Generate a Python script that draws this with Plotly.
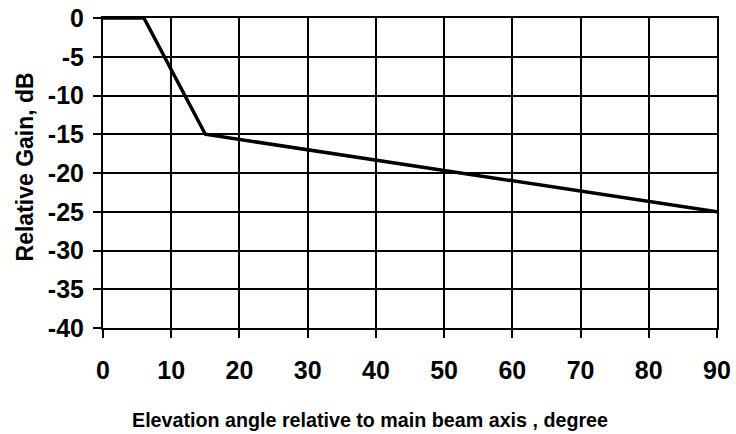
import plotly.graph_objects as go

# gain pattern vertices
angle = [0, 6, 15, 90]
gain = [0, 0, -15, -25]

x_ticks = [0, 10, 20, 30, 40, 50, 60, 70, 80, 90]
y_ticks = [0, -5, -10, -15, -20, -25, -30, -35, -40]
y_tick_labels = ["0", "-5", "-10", "-15", "-20", "-25", "-30", "-35", "-40"]

x_title = "Elevation angle relative to main beam axis , degree"
y_title = "Relative Gain, dB"

FONT = "Liberation Sans, Arial, sans-serif"

fig = go.Figure()
fig.add_trace(
    go.Scatter(
        x=angle,
        y=gain,
        mode="lines",
        line=dict(color="black", width=3.5),
        showlegend=False,
        hoverinfo="skip",
    )
)

axis_common = dict(
    showgrid=True,
    gridcolor="black",
    gridwidth=2,
    showline=True,
    linecolor="black",
    linewidth=2,
    mirror=True,
    ticks="outside",
    ticklen=8,
    tickwidth=2,
    tickcolor="black",
    zeroline=False,
    automargin=False,
    ticklabeloverflow="allow",
    tickfont=dict(family=FONT, size=25, color="black", weight="bold"),
)

fig.update_xaxes(range=[0, 90], tickvals=x_ticks, ticklabelstandoff=11, **axis_common)
fig.update_yaxes(
    range=[-40, 0], tickvals=y_ticks, ticktext=y_tick_labels,
    ticklabelstandoff=4, **axis_common,
)

# axis titles as annotations so they can sit where the original puts them
fig.add_annotation(
    text=x_title, xref="paper", yref="paper", x=0.435, y=-0.297,
    xanchor="center", yanchor="middle", showarrow=False,
    font=dict(family=FONT, size=19.7, color="black", weight="bold"),
)
fig.add_annotation(
    text=y_title, xref="paper", yref="paper", x=-0.127, y=0.518,
    xanchor="center", yanchor="middle", showarrow=False, textangle=-90,
    font=dict(family=FONT, size=23, color="black", weight="bold"),
)

fig.update_layout(
    width=736,
    height=434,
    margin=dict(l=103, r=19, t=18, b=106),
    plot_bgcolor="white",
    paper_bgcolor="white",
)

# drop the default page margin so the figure fills the window exactly
fig.write_html(
    "out.html",
    config={"displayModeBar": False},
    post_script="document.body.style.margin = '0';",
)
